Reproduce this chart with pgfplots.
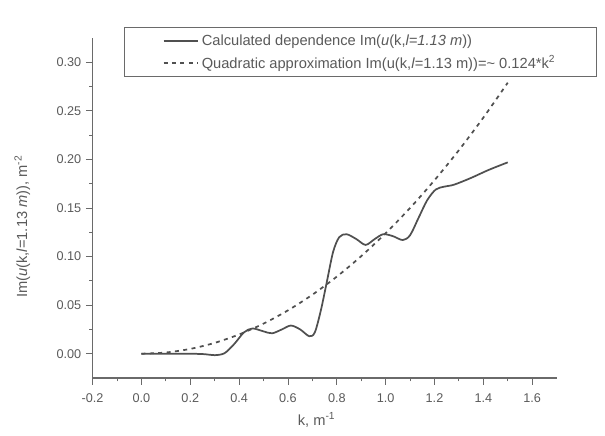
\documentclass[border=0pt]{standalone}
\usepackage{pgfplots}
\pgfplotsset{compat=1.18}
\usetikzlibrary{calc}
\usepackage{fontspec}
\setmainfont{Liberation Sans}
\definecolor{txt}{HTML}{5A5A5A}
\definecolor{axc}{HTML}{6A6A6A}
\definecolor{crv}{HTML}{505050}
\begin{document}
\begin{tikzpicture}
\begin{axis}[
  scale only axis,
  width=348pt, height=255pt,
  xmin=-0.2, xmax=1.7,
  ymin=-0.025, ymax=0.325,
  axis x line*=bottom, axis y line*=left,
  axis line style={axc, line width=0.8pt},
  xtick={-0.2,0,0.2,0.4,0.6,0.8,1.0,1.2,1.4,1.6},
  ytick={0,0.05,0.1,0.15,0.2,0.25,0.3},
  minor x tick num=1, minor y tick num=1,
  tick align=outside,
  major tick length=5pt, minor tick length=2.5pt,
  tick style={axc, line width=0.7pt},
  every tick label/.append style={font=\fontsize{9.5}{10}\selectfont, text=txt},
  /pgf/number format/assume math mode=true,
  xticklabel style={yshift=-3pt, /pgf/number format/.cd, fixed, fixed zerofill, precision=1},
  yticklabel style={/pgf/number format/.cd, fixed, fixed zerofill, precision=2},
  scaled y ticks=false,
  xlabel={k, m\textsuperscript{-1}},
  ylabel={Im(\textit{u}(k,\textit{l}=1.13 \textit{m})), m\textsuperscript{-2}},
  label style={font=\fontsize{11}{12}\selectfont, text=txt},
  xlabel style={yshift=-1pt, xshift=-6pt},
  ylabel style={yshift=13pt, xshift=-14pt},
  legend style={at={(rel axis cs:0.0666,1.0315)}, anchor=north west,
    draw=axc, line width=0.8pt, font=\fontsize{11}{13}\selectfont, text=txt,
    inner xsep=29pt, inner ysep=3pt, row sep=2.5pt},
  legend cell align=left,
  legend image code/.code={\draw[#1] (0pt,0pt) -- (26pt,0pt);},
  clip=false,
]
\coordinate (O) at (rel axis cs:0,0);
\addplot[crv, line width=1.3pt, smooth, tension=0.5] coordinates {
(0,0) (0.1,0) (0.2,0) (0.26,-0.0005) (0.30,-0.0015) (0.34,0.0005)
(0.38,0.010) (0.42,0.022) (0.455,0.026) (0.50,0.023) (0.535,0.021)
(0.575,0.025) (0.612,0.029) (0.65,0.025) (0.687,0.018) (0.71,0.022)
(0.735,0.045) (0.76,0.075) (0.785,0.105) (0.81,0.120) (0.84,0.123)
(0.88,0.118) (0.918,0.112) (0.955,0.118) (0.99,0.123) (1.03,0.121)
(1.07,0.117) (1.10,0.122) (1.135,0.140) (1.17,0.158) (1.205,0.169)
(1.24,0.172) (1.28,0.174) (1.35,0.181) (1.42,0.189) (1.5,0.197)
};
\addlegendentry{Calculated dependence Im(\textit{u}(k,\textit{l=1.13 m}))}
\addplot[crv, line width=1.3pt, dash pattern=on 3pt off 3.3pt, smooth] coordinates {
(0,0) (0.1,0.00124) (0.2,0.00496) (0.3,0.01116) (0.4,0.01984) (0.5,0.031)
(0.6,0.04464) (0.7,0.06076) (0.8,0.07936) (0.9,0.10044) (1.0,0.124)
(1.1,0.15004) (1.2,0.17856) (1.3,0.20956) (1.4,0.24304) (1.5,0.279)
};
\addlegendentry{Quadratic approximation Im(u(k,\textit{l}=1.13 m))=\textasciitilde{} 0.124*k\textsuperscript{2}\hspace{60pt}}
\end{axis}
\pgfresetboundingbox
\path[use as bounding box] ($(O)+(-69.45pt,-42.75pt)$) rectangle ($(O)+(384.3pt,283.5pt)$);
\end{tikzpicture}
\end{document}
